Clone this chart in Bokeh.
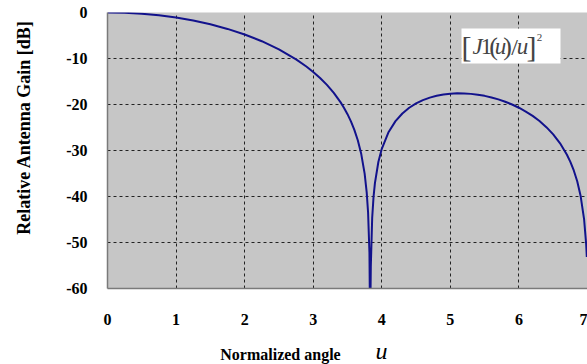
import math
from bokeh.plotting import figure
from bokeh.layouts import column, row
from bokeh.models import Range1d, FixedTicker, Label, BoxAnnotation, ColumnDataSource
from bokeh.core.properties import value
from bokeh.embed import file_html
from bokeh.resources import INLINE

# Normalised Airy pattern of a circular aperture, sampled along u
u_vals = [0.0, 0.25, 0.5, 0.75, 1.0, 1.25, 1.5, 1.75, 2.0, 2.25, 2.5, 2.75,
          2.9, 3.0, 3.1, 3.2, 3.3, 3.4, 3.45, 3.5, 3.55, 3.6, 3.65, 3.7,
          3.75, 3.78, 3.8, 3.82, 3.83, 3.84, 3.86, 3.88, 3.9, 3.95, 4.0,
          4.1, 4.2, 4.3, 4.4, 4.5, 4.6, 4.7, 4.8, 4.9, 5.0, 5.1, 5.2, 5.3,
          5.4, 5.5, 5.6, 5.7, 5.8, 5.9, 6.0, 6.1, 6.2, 6.3, 6.4, 6.5, 6.6,
          6.7, 6.75, 6.8, 6.85, 6.9, 6.95, 6.98, 6.99]
gain_db = [0.0, -0.07, -0.27, -0.62, -1.11, -1.76, -2.57, -3.57, -4.78, -6.24,
           -8.01, -10.18, -11.74, -12.92, -14.24, -15.74, -17.47, -19.54,
           -20.74, -22.10, -23.66, -25.51, -27.77, -30.72, -35.03, -39.10,
           -43.42, -52.14, -68.9, -55.19, -44.61, -40.03, -37.09, -32.50,
           -29.63, -25.96, -23.61, -21.95, -20.71, -19.77, -19.05, -18.51,
           -18.11, -17.83, -17.65, -17.58, -17.59, -17.69, -17.87, -18.12,
           -18.46, -18.89, -19.41, -20.00, -20.70, -21.53, -22.48, -23.60,
           -24.92, -26.50, -28.44, -30.92, -32.47, -34.34, -36.70, -39.90,
           -44.90, -50.26, -53.14]

x_ticks = [0, 1, 2, 3, 4, 5, 6, 7]
y_ticks = [0, -10, -20, -30, -40, -50, -60]
y_tick_labels = ["0", "-10", "-20", "-30", "-40", "-50", "-60"]

y_title = "Relative Antenna Gain [dB]"
x_title = "Normalized angle"
x_symbol = "u"

SERIF = "Liberation Serif"


def blank(width, height, xr, yr):
    """A figure with no axes or grid, used as a text strip."""
    f = figure(width=width, height=height, output_backend="svg",
               toolbar_location=None, x_range=xr, y_range=yr,
               x_axis_type=None, y_axis_type=None,
               min_border=0, outline_line_color=None)
    f.background_fill_color = "white"
    f.border_fill_color = "white"
    return f


# main chart
p = figure(width=547, height=330, output_backend="svg", toolbar_location=None,
           x_range=Range1d(0, 7), y_range=Range1d(-60, 0),
           min_border_left=67, min_border_right=0, min_border_top=12,
           min_border_bottom=42)
p.background_fill_color = "#c6c6c6"
p.border_fill_color = "white"
p.outline_line_color = None

src = ColumnDataSource(dict(u=u_vals, g=gain_db))
p.line("u", "g", source=src, line_color="#12128c", line_width=2)

for ax in (p.xaxis[0], p.yaxis[0]):
    ax.axis_line_color = "#7a7a7a"
    ax.axis_line_width = 1.5
    ax.major_tick_line_color = None
    ax.minor_tick_line_color = None
    ax.major_label_text_font = SERIF
    ax.major_label_text_font_style = "bold"
    ax.major_label_text_font_size = "16px"
    ax.major_label_text_color = "black"

p.xaxis.ticker = FixedTicker(ticks=x_ticks)
p.yaxis.ticker = FixedTicker(ticks=y_ticks)
p.yaxis.major_label_overrides = dict(zip(y_ticks, y_tick_labels))
p.xaxis.major_label_standoff = 19
p.yaxis.major_label_standoff = 14

for g in (p.xgrid[0], p.ygrid[0]):
    g.grid_line_color = "#222222"
    g.grid_line_dash = "3 3"
    g.grid_line_width = 1
p.xgrid.ticker = FixedTicker(ticks=x_ticks)
p.ygrid.ticker = FixedTicker(ticks=y_ticks)


# pixel helpers for placing the formula inside the frame
def ux(px):
    return (px - 67) / (480 / 7)


def dy(py):
    return -(py - 12) / (276 / 60)


p.add_layout(BoxAnnotation(left=ux(421), right=ux(520), top=dy(28), bottom=dy(63),
                           fill_color="white", fill_alpha=1, line_color=None))
pieces = [
    ("[", 426, "normal", "30px"),
    ("J", 437, "italic", "23px"),
    ("1", 446, "normal", "23px"),
    ("(", 453, "normal", "26px"),
    ("u", 460, "italic", "23px"),
    (")", 467, "normal", "26px"),
    ("/", 474, "normal", "24px"),
    ("u", 482, "italic", "23px"),
    ("]", 491, "normal", "30px"),
]
for txt, px, style, size in pieces:
    p.add_layout(Label(x=ux(px), y=dy(46), text=txt, text_align="center",
                       text_baseline="middle", text_font=SERIF,
                       text_font_style=style, text_font_size=size))
p.add_layout(Label(x=ux(499), y=dy(37), text="2", text_align="center",
                   text_baseline="middle", text_font=SERIF, text_font_size="11px"))

# vertical title strip; the row aligns its frame with the chart frame,
# so its y range runs over the same page pixels (12 at top, 288 at bottom)
ylab = blank(40, 330, Range1d(0, 40), Range1d(288, 12))
ylab.text(x=[23], y=[127], text=[y_title], angle=math.pi / 2,
          text_align="center", text_baseline="middle",
          text_font=value(SERIF), text_font_style="bold", text_font_size="18px",
          text_color="black")

# horizontal title strip
xlab = blank(587, 34, Range1d(0, 587), Range1d(34, 0))
xlab.text(x=[280], y=[24], text=[x_title], text_align="center",
          text_baseline="middle", text_font=value(SERIF),
          text_font_style="bold", text_font_size="16px", text_color="black")
xlab.text(x=[381], y=[20], text=[x_symbol], text_align="center",
          text_baseline="middle", text_font=value(SERIF),
          text_font_style="italic", text_font_size="24px", text_color="black")

layout = column(row(ylab, p), xlab)
open("out.html", "w").write(file_html(layout, INLINE))
